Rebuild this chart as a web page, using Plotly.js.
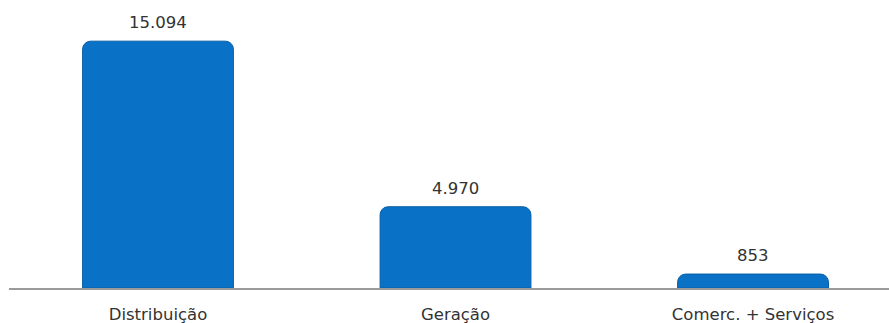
<!DOCTYPE html>
<html>
<head>
<meta charset="utf-8">
<script src="https://cdn.plot.ly/plotly-3.0.1.min.js"></script>
<style>html,body{margin:0;padding:0;background:#fff;}#chart{width:889px;height:323px;}</style>
</head>
<body>
<div id="chart"></div>
<script>
const categories = ["Distribuição", "Geração", "Comerc. + Serviços"];
const values = [15094, 4970, 853];
const valueLabels = ["15.094", "4.970", "853"];

const trace = {
  type: "bar",
  x: categories,
  y: values,
  width: 0.507,
  marker: {color: "#0a72c6", line: {color: "#0860a8", width: 1}},
  hoverinfo: "skip"
};

const annotations = categories.map((c, i) => ({
  x: c, y: values[i], text: valueLabels[i],
  xref: "x", yref: "y", showarrow: false,
  yanchor: "bottom", yshift: 7,
  font: {family: "DejaVu Sans, Verdana, sans-serif", size: 16.5, color: "#333"}
}));

const layout = {
  width: 889, height: 323,
  margin: {l: 9, r: 0, t: 10, b: 35},
  paper_bgcolor: "#fff", plot_bgcolor: "#fff",
  showlegend: false,
  barcornerradius: 8,
  xaxis: {
    type: "category",
    range: [-0.5008, 2.457],
    showline: true, linecolor: "#9a9a9a", linewidth: 2,
    ticks: "", showgrid: false, zeroline: false,
    tickfont: {family: "DejaVu Sans, Verdana, sans-serif", size: 16.5, color: "#333"},
    ticklabelstandoff: 10
  },
  yaxis: {
    range: [0, 17000], visible: false, showgrid: false, zeroline: false
  },
  annotations: annotations
};

Plotly.newPlot("chart", [trace], layout, {displayModeBar: false, staticPlot: true});
</script>
</body>
</html>
